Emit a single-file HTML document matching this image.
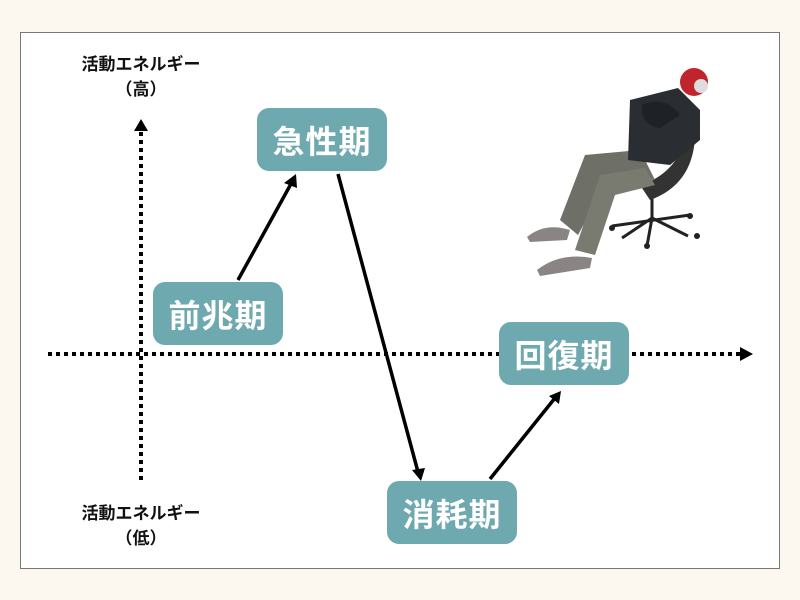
<!DOCTYPE html>
<html><head><meta charset="utf-8"><style>
body{margin:0;width:800px;height:600px;background:#fcf8ef;font-family:"Liberation Sans","Noto Sans CJK JP",sans-serif;overflow:hidden}
.panel{position:absolute;left:20px;top:32px;width:758px;height:535px;background:#fff;border:1px solid #777}
.box{position:absolute;width:130px;height:63px;background:#6fa9b0;border-radius:12px;color:#fff;font-weight:bold;font-size:32px;display:flex;align-items:center;justify-content:center;letter-spacing:1px}
.lbl{position:absolute;width:180px;left:51px;text-align:center;font-weight:bold;font-size:17px;color:#111;line-height:25px}
</style></head><body>
<div class="panel"></div>
<svg style="position:absolute;left:0;top:0" width="800" height="600">
<line x1="48" y1="354" x2="742" y2="354" stroke="#000" stroke-width="4" stroke-dasharray="4,4"/>
<polygon points="740,347 753,354 740,361" fill="#000"/>
<line x1="141" y1="480" x2="141" y2="130" stroke="#000" stroke-width="4" stroke-dasharray="4,4"/>
<polygon points="134,131 141,119 148,131" fill="#000"/>
<g stroke="#000" stroke-width="3.5" fill="none">
<line x1="238" y1="280" x2="292" y2="182"/>
<line x1="338" y1="174" x2="418" y2="472"/>
<line x1="490" y1="479" x2="555" y2="398"/>
</g>
<polygon points="296,174 284,183 297,188" fill="#000"/>
<polygon points="421,481 412,470 425,468" fill="#000"/>
<polygon points="561,391 549,396 559,404" fill="#000"/>
<!-- person -->
<g>
<path d="M652,185 L652,218 M612,226 L690,215 M652,218 L622,238 M652,218 L688,236 M652,218 L647,246" stroke="#222" stroke-width="3"/>
<circle cx="612" cy="228" r="3" fill="#222"/><circle cx="697" cy="236" r="3" fill="#222"/><circle cx="647" cy="246" r="3" fill="#222"/><circle cx="690" cy="216" r="3" fill="#222"/>
<path d="M640,185 Q675,175 688,135 L695,138 Q692,185 650,200 Z" fill="#333"/>
<path d="M560,220 L585,155 L640,150 L655,180 L610,175 L578,235 Z" fill="#6e6f66"/>
<path d="M575,250 L600,175 L645,168 L655,185 L615,195 L595,255 Z" fill="#7a7b70"/>
<path d="M630,100 L678,88 L700,110 L700,140 L670,165 L628,160 Z" fill="#2a2e33"/>
<path d="M642,105 Q665,95 680,115 L660,128 Q640,125 642,105Z" fill="#1e2226"/>
<circle cx="694" cy="82" r="14" fill="#c0242c"/>
<circle cx="701" cy="86" r="7" fill="#ddd"/>
<path d="M527,237 Q545,222 570,230 L567,240 L530,242 Z" fill="#8a8584"/>
<path d="M537,270 Q560,252 592,258 L590,268 L540,276 Z" fill="#8a8584"/>
</g>
</svg>
<div class="lbl" style="top:52px">活動エネルギー<br>（高）</div>
<div class="lbl" style="top:501px">活動エネルギー<br>（低）</div>
<div class="box" style="left:257px;top:108px">急性期</div>
<div class="box" style="left:153px;top:282px">前兆期</div>
<div class="box" style="left:499px;top:322px">回復期</div>
<div class="box" style="left:387px;top:481px">消耗期</div>
</body></html>
